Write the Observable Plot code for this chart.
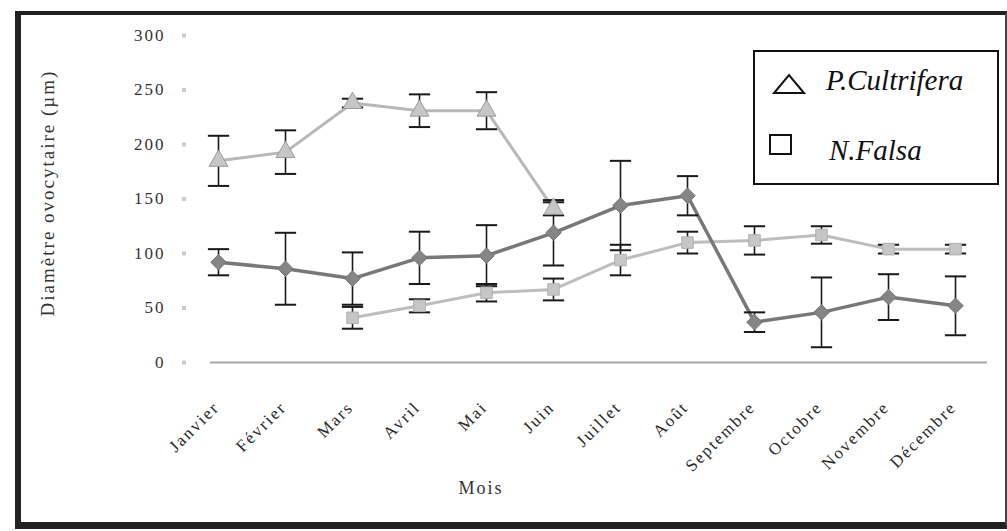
<!DOCTYPE html>
<html>
<head>
<meta charset="utf-8">
<script src="https://cdn.jsdelivr.net/npm/d3@7"></script>
<script src="https://cdn.jsdelivr.net/npm/@observablehq/plot@0.6"></script>
<style>
  html, body { margin: 0; padding: 0; background: #fff; }
  #wrap { position: relative; width: 1007px; height: 531px; overflow: hidden; background: #fff; }
  #chart svg text { letter-spacing: 2px; }
  #frame { position: absolute; left: 15px; top: 11px; width: 984px; height: 507px;
           border-top: 4px solid #222; border-left: 6px solid #222; border-bottom: 7px solid #222; border-right: 2px solid #444; }
  #legend { position: absolute; left: 753px; top: 50px; width: 242px; height: 131px;
            border: 2px solid #111; background: #fff; color: #111; }
  .lg { position: absolute; font-size: 29px; white-space: nowrap; font-family: "Liberation Serif", "Times New Roman", serif; font-style: italic; }
</style>
</head>
<body>
<div id="wrap">
  <div id="chart"></div>
  <div id="frame"></div>
  <div id="legend">
    <svg width="242" height="131" style="position:absolute;left:0;top:0">
      <polygon points="19,41 49,41 34,23" fill="none" stroke="#111" stroke-width="2"/>
      <rect x="15" y="83" width="21" height="19" fill="none" stroke="#111" stroke-width="2"/>
    </svg>
    <div class="lg" style="left:71px;top:12px">P.Cultrifera</div>
    <div class="lg" style="left:74px;top:82px">N.Falsa</div>
  </div>
</div>
<script>
const months = ["Janvier","Février","Mars","Avril","Mai","Juin","Juillet","Août","Septembre","Octobre","Novembre","Décembre"];
const yTicks = [0, 50, 100, 150, 200, 250, 300];

// P. Cultrifera (light grey, triangles) — Janvier to Juin
const cultriferaMean = [185, 193, 238, 231, 231, 141, null, null, null, null, null, null];
const cultriferaErr  = [23, 20, 4, 15, 17, 6, null, null, null, null, null, null];

// N. Falsa (light grey, squares) — Mars to Décembre
const falsaMean = [null, null, 41, 52, 64, 67, 94, 110, 112, 117, 104, 104];
const falsaErr  = [null, null, 10, 6, 8, 10, 14, 10, 13, 8, 4, 4];

// Third series (dark grey)
const darkMean = [92, 86, 77, 96, 98, 119, 144, 153, 37, 46, 60, 52];
const darkErr  = [12, 33, 24, 24, 28, 30, 41, 18, 9, 32, 21, 27];

function rows(mean, err) {
  return months.map((m, i) => ({month: m, v: mean[i], e: err[i]})).filter(d => d.v != null);
}
const cult = rows(cultriferaMean, cultriferaErr);
const fals = rows(falsaMean, falsaErr);
const dark = rows(darkMean, darkErr);

const capSymbol = { draw(ctx, size) { const w = Math.sqrt(size); ctx.moveTo(-w, 0); ctx.lineTo(w, 0); } };
const font = "Liberation Serif";

function errMarks(data) {
  return [
    Plot.ruleX(data, {x: "month", y1: d => d.v - d.e, y2: d => d.v + d.e, stroke: "#1a1a1a", strokeWidth: 1.6}),
    Plot.dot(data, {x: "month", y: d => d.v + d.e, symbol: capSymbol, r: 6, stroke: "#1a1a1a", strokeWidth: 2}),
    Plot.dot(data, {x: "month", y: d => d.v - d.e, symbol: capSymbol, r: 6, stroke: "#1a1a1a", strokeWidth: 2})
  ];
}

const chart = Plot.plot({
  width: 1007,
  height: 531,
  marginLeft: 210,
  marginRight: 20,
  marginTop: 35,
  marginBottom: 169,
  style: {fontFamily: font, background: "transparent"},
  x: {type: "point", domain: months, padding: 0, insetLeft: 8, insetRight: 32, axis: null},
  y: {domain: [0, 300], label: null},
  marks: [
    Plot.ruleY([0], {stroke: "#a8a8a8", strokeWidth: 2}),
    Plot.axisY({ticks: yTicks, tickSize: 0, tickPadding: 45, fontSize: 17, fill: "#333", label: null}),
    Plot.axisY({ticks: yTicks, tickSize: 4, text: null, dx: -24, stroke: "#cccccc", strokeWidth: 4, label: null}),
    Plot.text(months, {x: d => d, frameAnchor: "bottom", dx: -2, dy: 42, rotate: -45, textAnchor: "end", lineAnchor: "middle", fontSize: 17, fill: "#2a2a2a"}),
    Plot.text(["Mois"], {frameAnchor: "bottom", dx: -118, dy: 131, fontSize: 18, fill: "#333"}),
    Plot.text(["Diamètre ovocytaire (µm)"], {frameAnchor: "left", textAnchor: "middle", dx: -163, dy: -6, rotate: -90, fontSize: 19, fill: "#333"}),
    // lines
    Plot.line(cult, {x: "month", y: "v", stroke: "#b8b8b8", strokeWidth: 3}),
    Plot.line(fals, {x: "month", y: "v", stroke: "#bdbdbd", strokeWidth: 3}),
    Plot.line(dark, {x: "month", y: "v", stroke: "#787878", strokeWidth: 3.5}),
    // error bars
    ...errMarks(cult),
    ...errMarks(fals),
    ...errMarks(dark),
    // markers
    Plot.dot(cult, {x: "month", y: "v", symbol: "triangle", r: 7, fill: "#c6c6c6", stroke: "#9a9a9a", strokeWidth: 1}),
    Plot.dot(fals, {x: "month", y: "v", symbol: "square", r: 6.5, fill: "#c6c6c6", stroke: "#b0b0b0", strokeWidth: 1}),
    Plot.dot(dark, {x: "month", y: "v", symbol: "diamond2", r: 7, fill: "#858585", stroke: "#777", strokeWidth: 1})
  ]
});
document.getElementById("chart").appendChild(chart);
</script>
</body>
</html>
